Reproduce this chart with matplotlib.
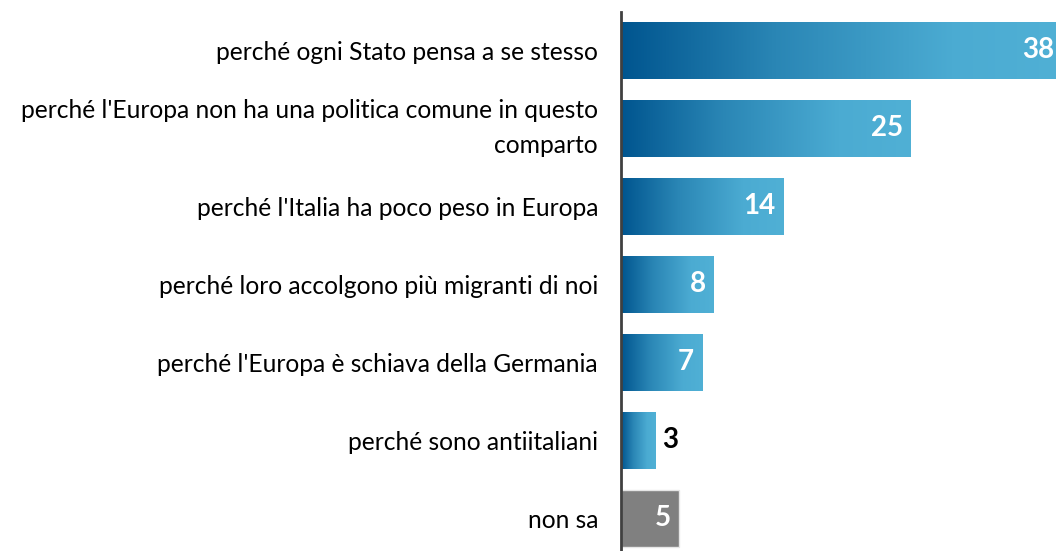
import numpy as np
import matplotlib.pyplot as plt
from matplotlib.colors import LinearSegmentedColormap

plt.rcParams['font.family'] = ['Lato', 'DejaVu Sans']

labels = [
    "perché ogni Stato pensa a se stesso",
    "perché l'Europa non ha una politica comune in questo\ncomparto",
    "perché l'Italia ha poco peso in Europa",
    "perché loro accolgono più migranti di noi",
    "perché l'Europa è schiava della Germania",
    "perché sono antiitaliani",
    "non sa",
]
values = [38, 25, 14, 8, 7, 3, 5]
gray_last = True

cmap = LinearSegmentedColormap.from_list(
    "blu", [(0, "#00558f"), (0.35, "#2a86b5"), (0.75, "#4babd2"), (1, "#50b0d5")])

fig = plt.figure(figsize=(10.56, 5.51), dpi=100)
ax = fig.add_axes([621 / 1056, 0, 1 - 621 / 1056, 1 - 12 / 551])

pos = np.arange(len(values))
bars = ax.barh(pos, values, height=0.73, color="none", edgecolor="none")
grad = np.linspace(0, 1, 256).reshape(1, -1)
for i, (b, v) in enumerate(zip(bars, values)):
    if gray_last and i == len(values) - 1:
        b.set_facecolor("#808080")
        b.set_edgecolor("#e6e6e6")
        b.set_linewidth(1)
    else:
        y0 = b.get_y()
        im = ax.imshow(grad, cmap=cmap, aspect="auto", interpolation="bilinear",
                       extent=[0, v, y0 + b.get_height(), y0], zorder=2)
        im.set_clip_path(b)
    if v >= 5:
        ax.text(v - 0.68, i, str(v), ha="right", va="center", color="white",
                fontsize=20, fontweight="bold", zorder=3)
    else:
        ax.text(v + 0.55, i, str(v), ha="left", va="center", color="black",
                fontsize=20, fontweight="bold", zorder=3)

ax.set_xlim(0, 37.5)
ax.set_ylim(6.42, -0.49)
ax.set_yticks(pos, labels)
ax.tick_params(axis="y", length=0, pad=16.5, labelsize=17.7)
for t in ax.get_yticklabels():
    t.set_linespacing(1.65)
    if "\n" in t.get_text():
        t.set_verticalalignment("center")
ax.set_xticks([])
for s in ["top", "right", "bottom"]:
    ax.spines[s].set_visible(False)
ax.spines["left"].set_color("#404040")
ax.spines["left"].set_linewidth(2)
ax.spines["left"].set_zorder(5)

fig.savefig("out.png", dpi=100)
